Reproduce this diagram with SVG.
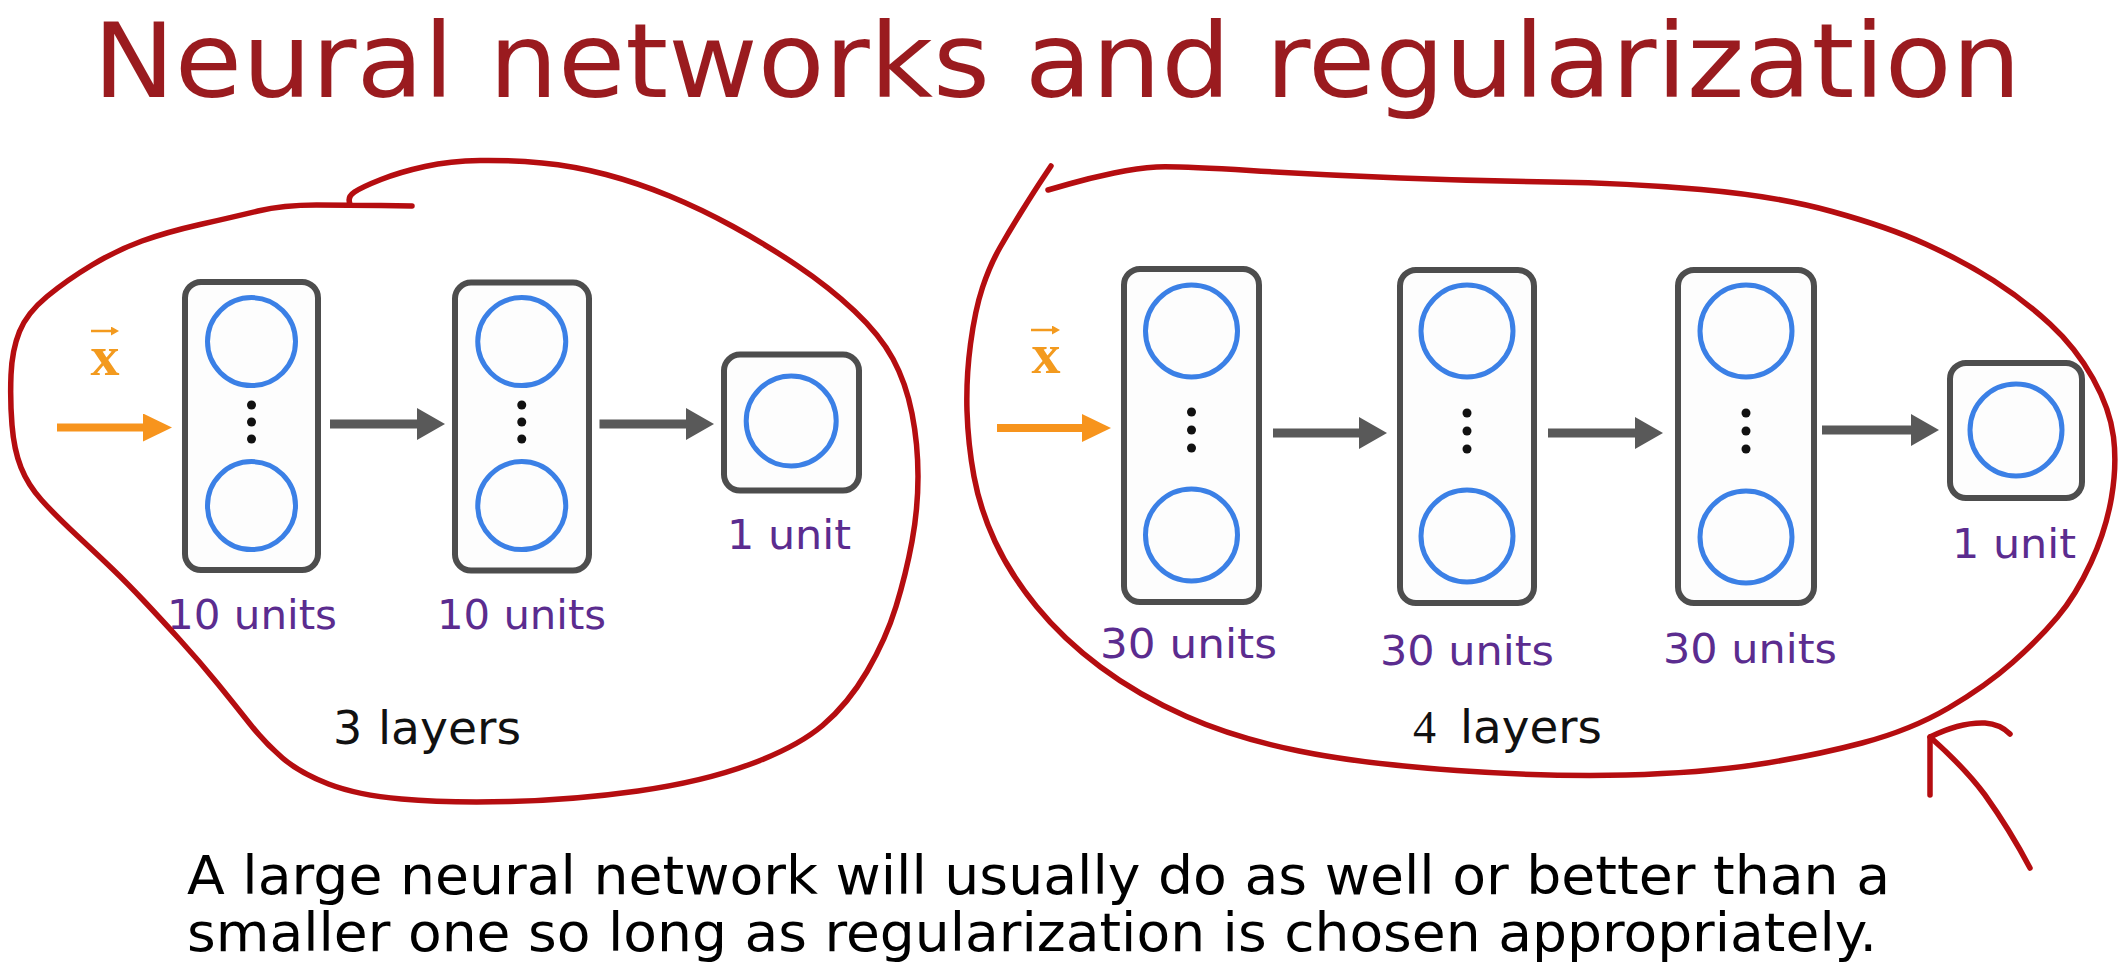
<svg xmlns="http://www.w3.org/2000/svg" width="2127" height="975" viewBox="0 0 2127 975">
  <style>
    .box { fill: #fdfdfd; stroke: #4d4d4d; stroke-width: 6; }
    .unit { fill: none; stroke: #3b80e6; stroke-width: 5; }
    .dot { fill: #111; }
    .lbl { font-family: "DejaVu Sans", Verdana, sans-serif; font-size: 40px; fill: #5b2c8f; text-anchor: middle; }
    .lay { font-family: "DejaVu Sans", Verdana, sans-serif; font-size: 46px; fill: #111; }
    .xv { font-family: "Liberation Serif", "Times New Roman", serif; font-size: 58px; font-weight: bold; fill: #f39a1e; text-anchor: middle; }
    .xarr { fill: none; stroke: #f39a1e; stroke-width: 2.5; }
    .gray { stroke: #595959; stroke-width: 9; }
    .orng { stroke: #f7941d; stroke-width: 8; }
    .ink { fill: none; stroke: #b50d10; stroke-width: 5.5; stroke-linecap: round; stroke-linejoin: round; }
    .title { font-family: "DejaVu Sans", Verdana, sans-serif; font-size: 104px; fill: #9a1b1f; }
    .body { font-family: "DejaVu Sans", Verdana, sans-serif; font-size: 54px; fill: #000; }
  </style>
  <defs>
    <marker id="hg" markerUnits="userSpaceOnUse" markerWidth="28" markerHeight="32" viewBox="0 0 28 32" refX="0" refY="16" orient="auto">
      <path d="M0,0 L28,16 L0,32 z" fill="#595959"/>
    </marker>
    <marker id="ho" markerUnits="userSpaceOnUse" markerWidth="29" markerHeight="28" viewBox="0 0 29 28" refX="0" refY="14" orient="auto">
      <path d="M0,0 L29,14 L0,28 z" fill="#f7941d"/>
    </marker>
    <marker id="hx" markerUnits="userSpaceOnUse" markerWidth="8" markerHeight="9" viewBox="0 0 8 9" refX="1" refY="4.5" orient="auto">
      <path d="M0,0 L8,4.5 L0,9 z" fill="#f39a1e"/>
    </marker>
  </defs>

  <rect x="0" y="0" width="2127" height="975" fill="#ffffff"/>

  <text class="title" x="93" y="97" textLength="1928" lengthAdjust="spacingAndGlyphs">Neural networks and regularization</text>

  <!-- Left network -->
  <g id="x-left">
    <text class="xv" x="105" y="375">x</text>
    <line class="xarr" x1="91" y1="331" x2="112" y2="331" marker-end="url(#hx)"/>
  </g>
  <g id="L1">
    <rect class="box" x="185" y="282" width="133" height="288" rx="16"/>
    <circle class="unit" cx="251.5" cy="341.6" r="44"/>
    <circle class="unit" cx="251.5" cy="505.6" r="44"/>
    <circle class="dot" cx="251.5" cy="405" r="4.5"/>
    <circle class="dot" cx="251.5" cy="422" r="4.5"/>
    <circle class="dot" cx="251.5" cy="439" r="4.5"/>
    <text class="lbl" x="252" y="629" textLength="170" lengthAdjust="spacingAndGlyphs">10 units</text>
  </g>
  <g id="L2">
    <rect class="box" x="455" y="282.6" width="134" height="288" rx="16"/>
    <circle class="unit" cx="521.75" cy="341.6" r="44"/>
    <circle class="unit" cx="521.75" cy="505.6" r="44"/>
    <circle class="dot" cx="521.75" cy="405" r="4.5"/>
    <circle class="dot" cx="521.75" cy="422" r="4.5"/>
    <circle class="dot" cx="521.75" cy="439" r="4.5"/>
    <text class="lbl" x="521.5" y="629" textLength="169" lengthAdjust="spacingAndGlyphs">10 units</text>
  </g>
  <g id="L3">
    <rect class="box" x="724" y="354.6" width="135" height="136" rx="16"/>
    <circle class="unit" cx="791.2" cy="421" r="45"/>
    <text class="lbl" x="789" y="549" textLength="124" lengthAdjust="spacingAndGlyphs">1 unit</text>
  </g>
  <g id="L-caption">
    <text class="lay" x="333" y="744"><tspan>3</tspan><tspan x="378" textLength="143" lengthAdjust="spacingAndGlyphs">layers</tspan></text>
  </g>

  <!-- Right network -->
  <g id="x-right">
    <text class="xv" x="1046" y="373">x</text>
    <line class="xarr" x1="1031" y1="330" x2="1053" y2="330" marker-end="url(#hx)"/>
  </g>
  <g id="R1">
    <rect class="box" x="1124" y="269" width="135" height="333" rx="16"/>
    <circle class="unit" cx="1191.5" cy="331" r="46"/>
    <circle class="unit" cx="1191.5" cy="535" r="46"/>
    <circle class="dot" cx="1191.5" cy="412" r="4.5"/>
    <circle class="dot" cx="1191.5" cy="430" r="4.5"/>
    <circle class="dot" cx="1191.5" cy="448" r="4.5"/>
    <text class="lbl" x="1188.5" y="658" textLength="177" lengthAdjust="spacingAndGlyphs">30 units</text>
  </g>
  <g id="R2">
    <rect class="box" x="1400" y="270" width="134" height="333" rx="16"/>
    <circle class="unit" cx="1467" cy="331" r="46"/>
    <circle class="unit" cx="1467" cy="536" r="46"/>
    <circle class="dot" cx="1467" cy="413" r="4.5"/>
    <circle class="dot" cx="1467" cy="431" r="4.5"/>
    <circle class="dot" cx="1467" cy="449" r="4.5"/>
    <text class="lbl" x="1467" y="665" textLength="174" lengthAdjust="spacingAndGlyphs">30 units</text>
  </g>
  <g id="R3">
    <rect class="box" x="1678" y="270" width="136" height="333" rx="16"/>
    <circle class="unit" cx="1746" cy="331" r="46"/>
    <circle class="unit" cx="1746" cy="537" r="46"/>
    <circle class="dot" cx="1746" cy="413" r="4.5"/>
    <circle class="dot" cx="1746" cy="431" r="4.5"/>
    <circle class="dot" cx="1746" cy="449" r="4.5"/>
    <text class="lbl" x="1750" y="663" textLength="174" lengthAdjust="spacingAndGlyphs">30 units</text>
  </g>
  <g id="R4">
    <rect class="box" x="1950" y="363" width="132" height="135" rx="16"/>
    <circle class="unit" cx="2016" cy="430" r="46"/>
    <text class="lbl" x="2014" y="558" textLength="124" lengthAdjust="spacingAndGlyphs">1 unit</text>
  </g>
  <g id="R-caption">
    <text class="lay" x="1413" y="743"><tspan font-family="Liberation Serif, serif">4</tspan><tspan x="1460" textLength="142" lengthAdjust="spacingAndGlyphs">layers</tspan></text>
  </g>

  <!-- Connectors -->
  <g id="connectors">
    <line class="orng" x1="57" y1="427.5" x2="143" y2="427.5" marker-end="url(#ho)"/>
    <line class="gray" x1="330" y1="424" x2="417" y2="424" marker-end="url(#hg)"/>
    <line class="gray" x1="599.5" y1="424" x2="686" y2="424" marker-end="url(#hg)"/>
    <line class="orng" x1="997" y1="428" x2="1082" y2="428" marker-end="url(#ho)"/>
    <line class="gray" x1="1273" y1="433" x2="1359" y2="433" marker-end="url(#hg)"/>
    <line class="gray" x1="1548" y1="433" x2="1635" y2="433" marker-end="url(#hg)"/>
    <line class="gray" x1="1822" y1="430" x2="1911" y2="430" marker-end="url(#hg)"/>
  </g>

  <!-- Hand-drawn annotations -->
  <g id="annotations">
    <path class="ink" d="M412,206 L381,205.5 Q350,205 316.5,205 Q283,205 258,211 Q233,217 200,224.5 Q167,232 142,241 Q117,250 92,265 Q67,280 47,296.5 Q27,313 19.5,331.5 Q12,350 11,375 Q10,400 12,425 Q14,450 21,467.5 Q28,485 41.5,500 Q55,515 77.5,536 Q100,557 113.5,570 Q127,583 143.5,600.5 Q160,618 180,640 Q200,662 217.5,683.5 Q235,705 250,724 Q265,743 282.5,758 Q300,773 328.5,784 Q357,795 401.5,799 Q446,803 510,801.5 Q574,800 638,791 Q702,782 749.5,764.5 Q797,747 822.5,725.5 Q848,704 867,671.5 Q886,639 896,606.5 Q906,574 912,541.5 Q918,509 918,476.5 Q918,444 912,413.5 Q906,383 893,359 Q880,335 854.5,311 Q829,287 797,265.5 Q765,244 733,226.5 Q701,209 669.5,196 Q638,183 606,174.5 Q574,166 542,163 Q510,160 480,160.5 Q450,161 425,166.5 Q400,172 381,179.5 Q362,187 354.5,192 Q347,197 350,204"/>
    <path class="ink" d="M1051,166 L1043,178 Q1035,190 1022.5,210 Q1010,230 1000,247.5 Q990,265 982.5,287.5 Q975,310 970.5,344 Q966,378 967,411 Q968,444 974,476.5 Q980,509 995,541.5 Q1010,574 1036.5,606.5 Q1063,639 1100.5,667 Q1138,695 1186.5,716.5 Q1235,738 1299,751 Q1363,764 1457,770.5 Q1551,777 1626,775 Q1701,773 1757,764.5 Q1813,756 1862,743 Q1911,730 1948.5,708 Q1986,686 2012.5,662.5 Q2039,639 2057.5,617 Q2076,595 2091,562.5 Q2106,530 2111.5,497.5 Q2117,465 2113.5,437 Q2110,409 2093,378.5 Q2076,348 2050,324 Q2024,300 1993.5,280.5 Q1963,261 1925.5,244 Q1888,227 1832,211.5 Q1776,196 1701,189.5 Q1626,183 1551,182 Q1476,181 1400.5,178 Q1325,175 1250,170.5 Q1175,166 1156.5,167 Q1138,168 1114,173 Q1090,178 1069,184 L1048,190"/>
    <path class="ink" d="M1930,795 L1930,737 Q1960,722 1985,723 Q2000,724 2010,734"/>
    <path class="ink" d="M1930,737 Q1965,768 1985,795 Q2010,830 2030,868"/>
  </g>

  <text class="body" x="187" y="894" textLength="1703" lengthAdjust="spacingAndGlyphs">A large neural network will usually do as well or better than a</text>
  <text class="body" x="187" y="951" textLength="1690" lengthAdjust="spacingAndGlyphs">smaller one so long as regularization is chosen appropriately.</text>
</svg>
